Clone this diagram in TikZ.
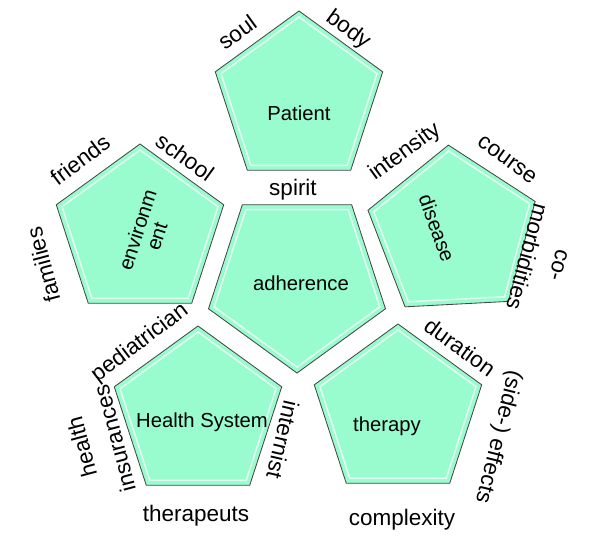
\documentclass[tikz,border=0pt]{standalone}
\usepackage{fontspec}
\setmainfont{Liberation Sans}
\usetikzlibrary{shapes.geometric,positioning,calc}
\definecolor{mint}{RGB}{153,252,206}
\definecolor{rim}{RGB}{70,70,70}
\tikzstyle{pent} = [regular polygon, regular polygon sides=5, minimum size=4.4cm, inner sep=0pt, draw=rim, line width=0.6pt, fill=mint]
\tikzstyle{pentin} = [regular polygon, regular polygon sides=5, minimum size=4.1cm, inner sep=0pt, draw=white, line width=1.1pt, opacity=0.75]
\tikzstyle{inlbl} = [font=\fontsize{14.4}{14.4}\selectfont, align=center, inner sep=0pt]
\tikzstyle{outlbl} = [font=\fontsize{16}{24}\selectfont, align=center, inner sep=0pt]

\begin{document}
\begin{tikzpicture}[x=0.025cm,y=-0.025cm]
\useasboundingbox (0,0) rectangle (600,541);
% pentagons
\node (pat) [pent] at (299,99) {};
\node (patin) [pentin] at (299,99) {};
\node (adh) [pent, shape border rotate=180, minimum size=4.65cm] at (297,280) {};
\node (adhin) [pentin, shape border rotate=180, minimum size=4.35cm] at (297,280) {};
\node (env) [pent] at (140,232) {};
\node (envin) [pentin] at (140,232) {};
\node (dis) [pent, shape border rotate=3] at (453,233) {};
\node (disin) [pentin, shape border rotate=3] at (453,233) {};
\node (hs) [pent] at (198,414) {};
\node (hsin) [pentin] at (198,414) {};
\node (ther) [pent] at (398,412) {};
\node (therin) [pentin] at (398,412) {};

% texts inside
\node (patl) [inlbl] at (299,113) {Patient};
\node (adhl) [inlbl] at (301,283) {adherence};
\node (envl) [inlbl, rotate=72] at (147,233) {environm\\ent};
\node (disl) [inlbl, rotate=-70] at (437,228) {disease};
\node (hsl) [inlbl] at (202,422) {Health System};
\node (therl) [inlbl] at (387,426) {therapy};

% texts around
\node (soul) [outlbl, rotate=36] at (237,32) {soul};
\node (body) [outlbl, rotate=-36] at (348,30) {body};
\node (spirit) [outlbl] at (293,190) {spirit};
\node (friends) [outlbl, rotate=37] at (80,160) {friends};
\node (school) [outlbl, rotate=-36] at (185,157) {school};
\node (families) [outlbl, rotate=105] at (43,265) {families};
\node (intensity) [outlbl, rotate=36] at (405,152) {intensity};
\node (course) [outlbl, rotate=-36] at (507,160) {course};
\node (comorb) [outlbl, rotate=-105] at (542,261) {co-\\morbidities};
\node (pediatr) [outlbl, rotate=37] at (140,343) {pediatrician};
\node (insur) [outlbl, rotate=105] at (98,443) {health\\insurances};
\node (internist) [outlbl, rotate=-103] at (283,440) {internist};
\node (therapeuts) [outlbl] at (196,516) {therapeuts};
\node (duration) [outlbl, rotate=-36] at (460,347) {duration};
\node (effects) [outlbl, rotate=-104] at (498,437) {(side-) effects};
\node (complexity) [outlbl] at (402,520) {complexity};
\end{tikzpicture}
\end{document}
